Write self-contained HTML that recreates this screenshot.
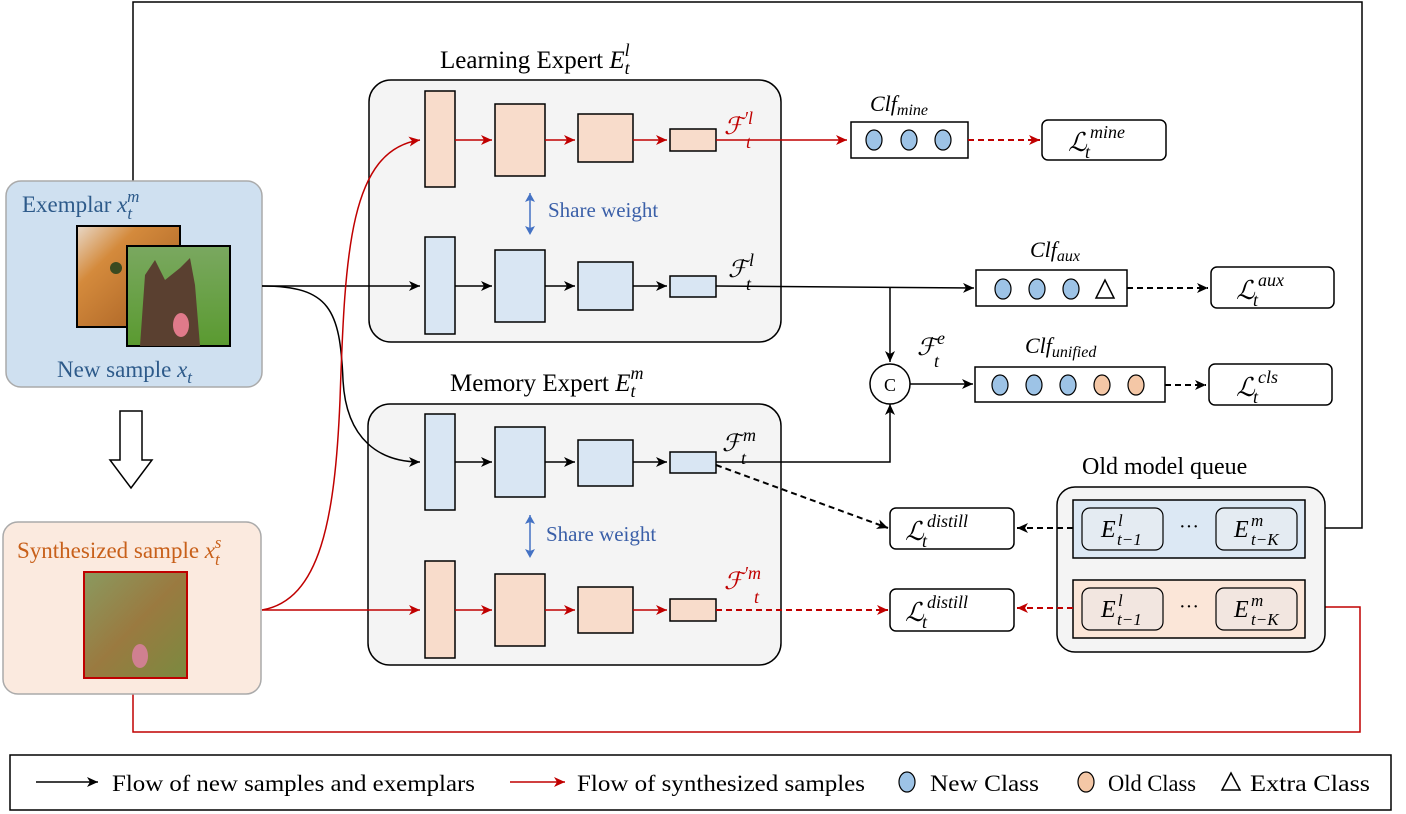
<!DOCTYPE html>
<html><head><meta charset="utf-8"><style>
html,body{margin:0;padding:0;background:#fff;}
svg{display:block;}
text{font-family:"Liberation Serif",serif;}
.m{font-style:italic;}
</style></head><body>
<svg width="1406" height="814" viewBox="0 0 1406 814" xmlns="http://www.w3.org/2000/svg">
<defs>
<marker id="ak" markerWidth="12" markerHeight="10" refX="11" refY="5" orient="auto" markerUnits="userSpaceOnUse"><path d="M0,0 L11,5 L0,10 L3,5 Z" fill="#000"/></marker>
<marker id="ar" markerWidth="12" markerHeight="10" refX="11" refY="5" orient="auto" markerUnits="userSpaceOnUse"><path d="M0,0 L11,5 L0,10 L3,5 Z" fill="#c00000"/></marker>
<marker id="ab" markerWidth="10" markerHeight="10" refX="9" refY="5" orient="auto" markerUnits="userSpaceOnUse"><path d="M0,0 L9,5 L0,10 L2,5 Z" fill="#4472c4"/></marker>
<linearGradient id="cat" x1="0" y1="0" x2="1" y2="1"><stop offset="0" stop-color="#e8d8c8"/><stop offset="0.3" stop-color="#d48a3c"/><stop offset="1" stop-color="#a05a20"/></linearGradient>
<linearGradient id="dog" x1="0" y1="0" x2="0" y2="1"><stop offset="0" stop-color="#7aa860"/><stop offset="1" stop-color="#5a9a30"/></linearGradient>
<linearGradient id="syn" x1="0" y1="0" x2="1" y2="1"><stop offset="0" stop-color="#8a9a60"/><stop offset="0.5" stop-color="#9a7a40"/><stop offset="1" stop-color="#7a8a40"/></linearGradient>
</defs>

<polyline points="133,181 133,2 1362,2 1362,528 1307,528" fill="none" stroke="#000" stroke-width="1.5" marker-end="url(#ak)"/>
<polyline points="133,694 133,732 1360,732 1360,607 1307,607" fill="none" stroke="#c00000" stroke-width="1.5" marker-end="url(#ar)"/>

<rect x="6" y="181" width="256" height="206" rx="15" fill="#cfe0f0" stroke="#aaa" stroke-width="1.5"/>
<text x="22" y="212" font-size="23" fill="#2d5a8a">Exemplar <tspan class="m">x</tspan><tspan class="m" font-size="17" dy="7">t</tspan><tspan class="m" font-size="17" dx="-5" dy="-17">m</tspan></text>
<rect x="77" y="226" width="103" height="101" fill="url(#cat)" stroke="#000" stroke-width="2"/>
<circle cx="116" cy="268" r="6" fill="#3a4a20"/>
<rect x="127" y="246" width="103" height="100" fill="url(#dog)" stroke="#000" stroke-width="2"/>
<path d="M140,346 L145,275 L155,260 L165,280 L180,268 L190,258 L195,285 L200,346 Z" fill="#5a4030"/>
<ellipse cx="181" cy="325" rx="8" ry="12" fill="#e07a8a"/>
<text x="57" y="377" font-size="23" fill="#2d5a8a">New sample <tspan class="m">x</tspan><tspan class="m" font-size="17" dy="6">t</tspan></text>

<path d="M120,411 L142,411 L142,460 L152,460 L131,488 L110,460 L120,460 Z" fill="#fff" stroke="#000" stroke-width="1.5"/>

<rect x="3" y="522" width="258" height="172" rx="15" fill="#fbeadf" stroke="#aaa" stroke-width="1.5"/>
<text x="17" y="558" font-size="23" fill="#c8601a">Synthesized sample <tspan class="m">x</tspan><tspan class="m" font-size="17" dy="7">t</tspan><tspan class="m" font-size="17" dx="-5" dy="-17">s</tspan></text>
<rect x="84" y="572" width="103" height="106" fill="url(#syn)" stroke="#c00000" stroke-width="2"/>
<ellipse cx="140" cy="656" rx="8" ry="12" fill="#d08090"/>

<rect x="369" y="80" width="412" height="262" rx="22" fill="#f4f4f4" stroke="#000" stroke-width="1.5"/>
<rect x="368" y="404" width="413" height="261" rx="22" fill="#f4f4f4" stroke="#000" stroke-width="1.5"/>
<text x="440" y="68" font-size="25">Learning Expert <tspan class="m">E</tspan><tspan class="m" font-size="18" dy="6">t</tspan><tspan class="m" font-size="18" dx="-5" dy="-18">l</tspan></text>
<text x="450" y="391" font-size="25">Memory Expert <tspan class="m">E</tspan><tspan class="m" font-size="18" dy="6">t</tspan><tspan class="m" font-size="18" dx="-5" dy="-18">m</tspan></text>

<line x1="262" y1="286" x2="420" y2="286" stroke="#000" stroke-width="1.5" marker-end="url(#ak)"/>
<path d="M262,286 C330,286 340,310 343,380 C346,440 380,462 420,462" fill="none" stroke="#000" stroke-width="1.5" marker-end="url(#ak)"/>
<path d="M262,610 C320,600 335,520 340,400 C345,250 350,150 420,140" fill="none" stroke="#c00000" stroke-width="1.5" marker-end="url(#ar)"/>
<line x1="262" y1="610" x2="420" y2="610" stroke="#c00000" stroke-width="1.5" marker-end="url(#ar)"/>

<g stroke="#000" stroke-width="1.5" fill="#f8dccb">
<rect x="425" y="91" width="30" height="96"/><rect x="495" y="104" width="50" height="72"/><rect x="578" y="114" width="55" height="48"/><rect x="670" y="129" width="46" height="22"/>
</g>
<g stroke="#c00000" stroke-width="1.5" marker-end="url(#ar)">
<line x1="455" y1="140" x2="492" y2="140"/><line x1="545" y1="140" x2="575" y2="140"/><line x1="633" y1="140" x2="667" y2="140"/><line x1="716" y1="140" x2="847" y2="140"/>
</g>
<text x="724" y="134" font-size="24" fill="#c00000" class="m">ℱ</text>
<text x="744" y="124" font-size="18" fill="#c00000" class="m">′l</text>
<text x="746" y="148" font-size="18" fill="#c00000" class="m">t</text>

<line x1="530" y1="200" x2="530" y2="235" stroke="#4472c4" stroke-width="1.5" stroke-dasharray="3,3" marker-end="url(#ab)"/>
<line x1="530" y1="230" x2="530" y2="193" stroke="#4472c4" stroke-width="1.5" stroke-dasharray="3,3" marker-end="url(#ab)"/>
<text x="548" y="217" font-size="21" fill="#3a5fa8">Share weight</text>

<g stroke="#000" stroke-width="1.5" fill="#d9e6f3">
<rect x="425" y="237" width="30" height="97"/><rect x="495" y="250" width="50" height="72"/><rect x="578" y="262" width="55" height="48"/><rect x="670" y="276" width="46" height="21"/>
</g>
<g stroke="#000" stroke-width="1.5" marker-end="url(#ak)">
<line x1="455" y1="286" x2="492" y2="286"/><line x1="545" y1="286" x2="575" y2="286"/><line x1="633" y1="286" x2="667" y2="286"/>
</g>
<polyline points="716,286 974,288" fill="none" stroke="#000" stroke-width="1.5" marker-end="url(#ak)"/>
<line x1="890" y1="287" x2="890" y2="362" stroke="#000" stroke-width="1.5" marker-end="url(#ak)"/>
<text x="728" y="277" font-size="24" class="m">ℱ</text>
<text x="749" y="266" font-size="18" class="m">l</text>
<text x="746" y="290" font-size="18" class="m">t</text>

<g stroke="#000" stroke-width="1.5" fill="#d9e6f3">
<rect x="425" y="414" width="30" height="96"/><rect x="495" y="427" width="50" height="70"/><rect x="578" y="440" width="55" height="46"/><rect x="670" y="452" width="46" height="21"/>
</g>
<g stroke="#000" stroke-width="1.5" marker-end="url(#ak)">
<line x1="455" y1="462" x2="492" y2="462"/><line x1="545" y1="462" x2="575" y2="462"/><line x1="633" y1="462" x2="667" y2="462"/>
</g>
<polyline points="716,462 890,462 890,404" fill="none" stroke="#000" stroke-width="1.5" marker-end="url(#ak)"/>
<line x1="716" y1="465" x2="888" y2="528" stroke="#000" stroke-width="2" stroke-dasharray="6,4" marker-end="url(#ak)"/>
<text x="722" y="451" font-size="24" class="m">ℱ</text>
<text x="743" y="441" font-size="18" class="m">m</text>
<text x="741" y="464" font-size="18" class="m">t</text>

<line x1="530" y1="522" x2="530" y2="558" stroke="#4472c4" stroke-width="1.5" stroke-dasharray="3,3" marker-end="url(#ab)"/>
<line x1="530" y1="552" x2="530" y2="515" stroke="#4472c4" stroke-width="1.5" stroke-dasharray="3,3" marker-end="url(#ab)"/>
<text x="546" y="541" font-size="21" fill="#3a5fa8">Share weight</text>

<g stroke="#000" stroke-width="1.5" fill="#f8dccb">
<rect x="425" y="561" width="30" height="97"/><rect x="495" y="574" width="50" height="72"/><rect x="578" y="587" width="55" height="46"/><rect x="670" y="599" width="46" height="22"/>
</g>
<g stroke="#c00000" stroke-width="1.5" marker-end="url(#ar)">
<line x1="455" y1="610" x2="492" y2="610"/><line x1="545" y1="610" x2="575" y2="610"/><line x1="633" y1="610" x2="667" y2="610"/>
</g>
<line x1="716" y1="610" x2="888" y2="610" stroke="#c00000" stroke-width="2" stroke-dasharray="6,4" marker-end="url(#ar)"/>
<text x="724" y="589" font-size="24" fill="#c00000" class="m">ℱ</text>
<text x="744" y="579" font-size="18" fill="#c00000" class="m">′m</text>
<text x="754" y="603" font-size="18" fill="#c00000" class="m">t</text>

<text x="870" y="111" font-size="22" class="m">Clf<tspan font-size="16" dy="4">mine</tspan></text>
<rect x="851" y="122" width="117" height="36" fill="#fff" stroke="#000" stroke-width="1.5"/>
<g fill="#9dc3e6" stroke="#000" stroke-width="1.2">
<ellipse cx="874" cy="140" rx="8" ry="10"/><ellipse cx="909" cy="140" rx="8" ry="10"/><ellipse cx="943" cy="140" rx="8" ry="10"/>
</g>
<line x1="968" y1="140" x2="1040" y2="140" stroke="#c00000" stroke-width="2" stroke-dasharray="6,4" marker-end="url(#ar)"/>
<rect x="1042" y="120" width="124" height="40" rx="6" fill="#fff" stroke="#000" stroke-width="1.5"/>
<text x="1068" y="151" font-size="26" class="m">ℒ</text>
<text x="1085" y="158" font-size="18" class="m">t</text>
<text x="1090" y="138" font-size="18" class="m">mine</text>

<text x="1030" y="257" font-size="22" class="m">Clf<tspan font-size="16" dy="4">aux</tspan></text>
<rect x="976" y="270" width="151" height="36" fill="#fff" stroke="#000" stroke-width="1.5"/>
<g fill="#9dc3e6" stroke="#000" stroke-width="1.2">
<ellipse cx="1003" cy="289" rx="8" ry="10"/><ellipse cx="1037" cy="289" rx="8" ry="10"/><ellipse cx="1071" cy="289" rx="8" ry="10"/>
</g>
<path d="M1105,280 L1096,298 L1114,298 Z" fill="none" stroke="#000" stroke-width="1.5"/>
<line x1="1127" y1="288" x2="1208" y2="288" stroke="#000" stroke-width="2" stroke-dasharray="6,4" marker-end="url(#ak)"/>
<rect x="1211" y="267" width="123" height="41" rx="6" fill="#fff" stroke="#000" stroke-width="1.5"/>
<text x="1236" y="299" font-size="26" class="m">ℒ</text>
<text x="1253" y="306" font-size="18" class="m">t</text>
<text x="1258" y="286" font-size="18" class="m">aux</text>

<circle cx="890" cy="384" r="20" fill="#fff" stroke="#000" stroke-width="1.5"/>
<text x="890" y="391" font-size="18" text-anchor="middle" font-family="Liberation Sans, sans-serif">C</text>
<text x="917" y="355" font-size="24" class="m">ℱ</text>
<text x="937" y="344" font-size="18" class="m">e</text>
<text x="934" y="367" font-size="18" class="m">t</text>
<line x1="910" y1="384" x2="973" y2="384" stroke="#000" stroke-width="1.5" marker-end="url(#ak)"/>
<text x="1025" y="353" font-size="22" class="m">Clf<tspan font-size="16" dy="4">unified</tspan></text>
<rect x="975" y="367" width="190" height="35" fill="#fff" stroke="#000" stroke-width="1.5"/>
<g stroke="#000" stroke-width="1.2">
<ellipse cx="1000" cy="385" rx="8" ry="10" fill="#9dc3e6"/><ellipse cx="1034" cy="385" rx="8" ry="10" fill="#9dc3e6"/><ellipse cx="1068" cy="385" rx="8" ry="10" fill="#9dc3e6"/><ellipse cx="1102" cy="385" rx="8" ry="10" fill="#f4c7a6"/><ellipse cx="1136" cy="385" rx="8" ry="10" fill="#f4c7a6"/>
</g>
<line x1="1165" y1="385" x2="1206" y2="385" stroke="#000" stroke-width="2" stroke-dasharray="6,4" marker-end="url(#ak)"/>
<rect x="1209" y="364" width="123" height="41" rx="6" fill="#fff" stroke="#000" stroke-width="1.5"/>
<text x="1236" y="396" font-size="26" class="m">ℒ</text>
<text x="1253" y="403" font-size="18" class="m">t</text>
<text x="1258" y="383" font-size="18" class="m">cls</text>

<rect x="890" y="508" width="124" height="41" rx="6" fill="#fff" stroke="#000" stroke-width="1.5"/>
<text x="905" y="540" font-size="26" class="m">ℒ</text>
<text x="922" y="547" font-size="18" class="m">t</text>
<text x="927" y="527" font-size="18" class="m">distill</text>
<rect x="890" y="589" width="124" height="42" rx="6" fill="#fff" stroke="#000" stroke-width="1.5"/>
<text x="905" y="621" font-size="26" class="m">ℒ</text>
<text x="922" y="628" font-size="18" class="m">t</text>
<text x="927" y="608" font-size="18" class="m">distill</text>

<text x="1082" y="474" font-size="24">Old model queue</text>
<rect x="1057" y="487" width="268" height="165" rx="18" fill="#f4f4f4" stroke="#000" stroke-width="1.5"/>
<rect x="1073" y="500" width="232" height="58" fill="#dce8f4" stroke="#000" stroke-width="1.5"/>
<rect x="1073" y="580" width="232" height="58" fill="#fbe6d8" stroke="#000" stroke-width="1.5"/>
<g fill="#e4ebf2" stroke="#000" stroke-width="1.2">
<rect x="1082" y="508" width="81" height="42" rx="8"/><rect x="1216" y="508" width="81" height="42" rx="8"/>
</g>
<g fill="#f2e6e0" stroke="#000" stroke-width="1.2">
<rect x="1082" y="588" width="81" height="42" rx="8"/><rect x="1216" y="588" width="81" height="42" rx="8"/>
</g>
<g class="m">
<text x="1101" y="537" font-size="24">E</text><text x="1118" y="526" font-size="17">l</text><text x="1117" y="545" font-size="17">t−1</text>
<text x="1234" y="537" font-size="24">E</text><text x="1251" y="526" font-size="17">m</text><text x="1251" y="545" font-size="17">t−K</text>
<text x="1101" y="617" font-size="24">E</text><text x="1118" y="606" font-size="17">l</text><text x="1117" y="625" font-size="17">t−1</text>
<text x="1234" y="617" font-size="24">E</text><text x="1251" y="606" font-size="17">m</text><text x="1251" y="625" font-size="17">t−K</text>
</g>
<text x="1189" y="533" font-size="20" text-anchor="middle">···</text>
<text x="1189" y="613" font-size="20" text-anchor="middle">···</text>
<line x1="1073" y1="528" x2="1017" y2="528" stroke="#000" stroke-width="2" stroke-dasharray="6,4" marker-end="url(#ak)"/>
<line x1="1073" y1="608" x2="1017" y2="608" stroke="#c00000" stroke-width="2" stroke-dasharray="6,4" marker-end="url(#ar)"/>

<rect x="10" y="755" width="1381" height="55" fill="#fff" stroke="#000" stroke-width="1.5"/>
<line x1="36" y1="782" x2="98" y2="782" stroke="#000" stroke-width="1.5" marker-end="url(#ak)"/>
<text x="112" y="791" font-size="23" textLength="363" lengthAdjust="spacingAndGlyphs">Flow of new samples and exemplars</text>
<line x1="510" y1="782" x2="565" y2="782" stroke="#c00000" stroke-width="1.5" marker-end="url(#ar)"/>
<text x="577" y="791" font-size="23" textLength="288" lengthAdjust="spacingAndGlyphs">Flow of synthesized samples</text>
<ellipse cx="907" cy="782" rx="8" ry="10" fill="#9dc3e6" stroke="#000" stroke-width="1.2"/>
<text x="930" y="791" font-size="23" textLength="109" lengthAdjust="spacingAndGlyphs">New Class</text>
<ellipse cx="1086" cy="782" rx="8" ry="10" fill="#f4c7a6" stroke="#000" stroke-width="1.2"/>
<text x="1108" y="791" font-size="23" textLength="88" lengthAdjust="spacingAndGlyphs">Old Class</text>
<path d="M1231,773 L1222,790 L1240,790 Z" fill="none" stroke="#000" stroke-width="1.5"/>
<text x="1250" y="791" font-size="23" textLength="120" lengthAdjust="spacingAndGlyphs">Extra Class</text>
</svg>
</body></html>
